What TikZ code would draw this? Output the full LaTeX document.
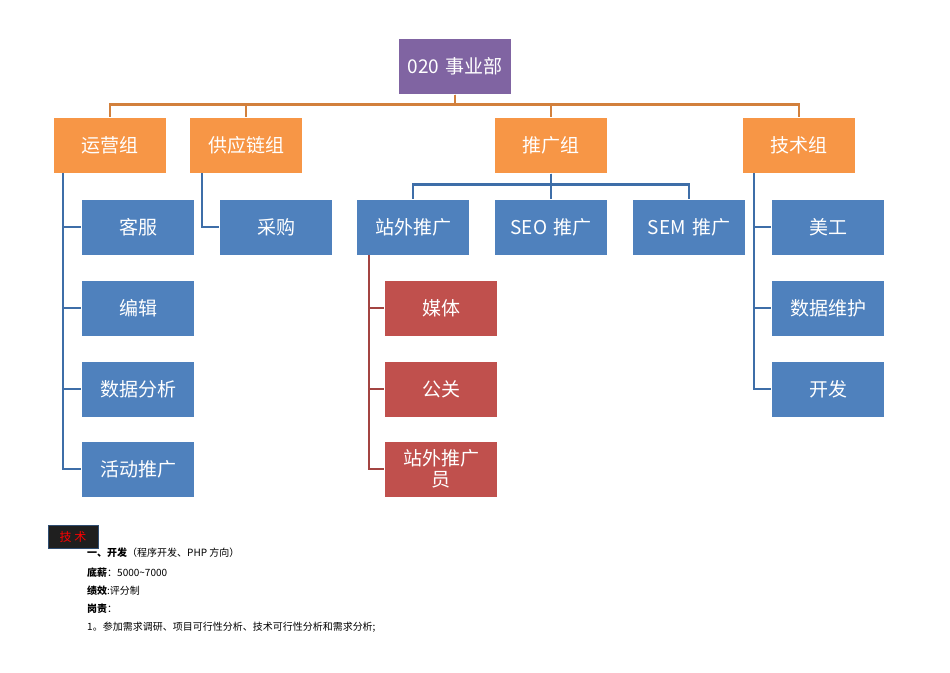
\documentclass[tikz,border=0pt]{standalone}
\usepackage{fontspec}
\setmainfont{Carlito}
\newfontfamily\cjk{Noto Sans CJK SC}
\definecolor{vio}{HTML}{8064A2}
\definecolor{org}{HTML}{F79646}
\definecolor{blu}{HTML}{4F81BD}
\definecolor{rd}{HTML}{C0504D}
\definecolor{lnb}{HTML}{3E6EA8}
\begin{document}
\begin{tikzpicture}[x=1pt,y=-1pt,
  box/.style={draw=white,line width=1pt,minimum width=113pt,minimum height=56pt,inner sep=1pt,text=white,font=\cjk\fontsize{19}{21}\selectfont,align=center,text width=108pt},
  po/.style={box,fill=org}, pb/.style={box,fill=blu}, pr/.style={box,fill=rd},
  lo/.style={draw=org!85!black,line width=2.2pt},
  lb/.style={draw=lnb,line width=2.2pt},
  lr/.style={draw=rd!85!black,line width=2.2pt},
  txt/.style={anchor=west,inner sep=0pt,font=\cjk\fontsize{10}{12}\selectfont}]
\useasboundingbox (0,0) rectangle (950,672);
\node[box,fill=vio] (top) at (455,66) {020 事业部};
\node[po] (yy) at (110,145) {运营组};
\node[po] (gy) at (246,145) {供应链组};
\node[po] (tg) at (551,145) {推广组};
\node[po] (js) at (799,145) {技术组};
\node[pb] (kf) at (138,227) {客服};
\node[pb] (bj) at (138,308) {编辑};
\node[pb] (sj) at (138,389) {数据分析};
\node[pb] (hd) at (138,469) {活动推广};
\node[pb] (cg) at (276,227) {采购};
\node[pb] (zw) at (413,227) {站外推广};
\node[pb] (seo) at (551,227) {SEO 推广};
\node[pb] (sem) at (689,227) {SEM 推广};
\node[pr] (mt) at (441,308) {媒体};
\node[pr] (gg) at (441,389) {公关};
\node[pr] (zy) at (441,469) {站外推广\\员};
\node[pb] (mg) at (828,227) {美工};
\node[pb] (wh) at (828,308) {数据维护};
\node[pb] (kk) at (828,389) {开发};
% level one
\draw[lo] (top.south) -- ++(0,10) -| (yy.north);
\draw[lo] (top.south) -- ++(0,10) -| (gy.north);
\draw[lo] (top.south) -- ++(0,10) -| (tg.north);
\draw[lo] (top.south) -- ++(0,10) -| (js.north);
% groups
\foreach \c in {kf,bj,sj,hd} \draw[lb] (63,173) |- (\c.west);
\draw[lb] (202,173) |- (cg.west);
\foreach \c in {zw,seo,sem} \draw[lb] (tg.south) -- ++(0,11) -| (\c.north);
\foreach \c in {mt,gg,zy} \draw[lr] (369,255) |- (\c.west);
\foreach \c in {mg,wh,kk} \draw[lb] (754,173) |- (\c.west);
% text
\node[fill=black!88,draw=blu!60!black,minimum width=50pt,minimum height=23pt,text=red,font=\cjk\fontsize{12}{14}\selectfont,inner sep=0pt] (tag) at (73,537) {技 术};
\node[txt] (l1) at (87,553) {\textbf{一、开发}（程序开发、PHP 方向）};
\node[txt] (l2) at (87,573) {\textbf{底薪}：5000\textasciitilde7000};
\node[txt] (l3) at (87,591) {\textbf{绩效}:评分制};
\node[txt] (l4) at (87,609) {\textbf{岗责}：};
\node[txt] (l5) at (87,627) {1。参加需求调研、项目可行性分析、技术可行性分析和需求分析;};
\end{tikzpicture}
\end{document}
